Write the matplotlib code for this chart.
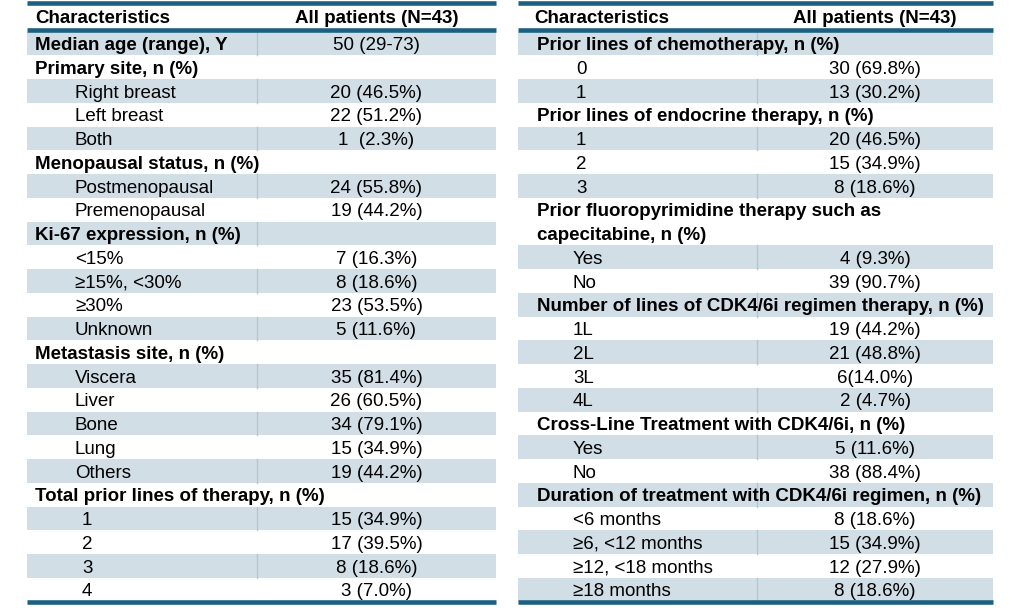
import matplotlib
matplotlib.use("Agg")
import matplotlib.pyplot as plt

plt.rcParams['font.family'] = ['Liberation Sans', 'DejaVu Sans']

header_left = "Characteristics"
header_right = "All patients (N=43)"

# kind: 'c' = category (bold), 's' = sub item, 'n' = numeric sub item, 'c2' = two-line category
left_labels = ["Median age (range), Y", "Primary site, n (%)", "Right breast", "Left breast", "Both",
               "Menopausal status, n (%)", "Postmenopausal", "Premenopausal",
               "Ki-67 expression, n (%)", "<15%", "≥15%, <30%", "≥30%", "Unknown",
               "Metastasis site, n (%)", "Viscera", "Liver", "Bone", "Lung", "Others",
               "Total prior lines of therapy, n (%)", "1", "2", "3", "4"]
left_values = ["50 (29-73)", "", "20 (46.5%)", "22 (51.2%)", "1  (2.3%)",
               "", "24 (55.8%)", "19 (44.2%)",
               "", "7 (16.3%)", "8 (18.6%)", "23 (53.5%)", "5 (11.6%)",
               "", "35 (81.4%)", "26 (60.5%)", "34 (79.1%)", "15 (34.9%)", "19 (44.2%)",
               "", "15 (34.9%)", "17 (39.5%)", "8 (18.6%)", "3 (7.0%)"]
left_kinds = ["c", "c", "s", "s", "s", "c", "s", "s", "c", "s", "s", "s", "s",
              "c", "s", "s", "s", "s", "s", "c", "n", "n", "n", "n"]

right_labels = ["Prior lines of chemotherapy, n (%)", "0", "1",
                "Prior lines of endocrine therapy, n (%)", "1", "2", "3",
                "Prior fluoropyrimidine therapy such as\ncapecitabine, n (%)", "Yes", "No",
                "Number of lines of CDK4/6i regimen therapy, n (%)", "1L", "2L", "3L", "4L",
                "Cross-Line Treatment with CDK4/6i, n (%)", "Yes", "No",
                "Duration of treatment with CDK4/6i regimen, n (%)",
                "<6 months", "≥6, <12 months", "≥12, <18 months", "≥18 months"]
right_values = ["", "30 (69.8%)", "13 (30.2%)",
                "", "20 (46.5%)", "15 (34.9%)", "8 (18.6%)",
                "", "4 (9.3%)", "39 (90.7%)",
                "", "19 (44.2%)", "21 (48.8%)", "6(14.0%)", "2 (4.7%)",
                "", "5 (11.6%)", "38 (88.4%)",
                "", "8 (18.6%)", "15 (34.9%)", "12 (27.9%)", "8 (18.6%)"]
right_kinds = ["c", "n", "n", "c", "n", "n", "n", "c2", "s", "s",
               "c", "s", "s", "s", "s", "c", "s", "s", "c", "s", "s", "s", "s"]

W, H = 1016, 615
fig = plt.figure(figsize=(W / 100, H / 100), dpi=100)
ax = fig.add_axes([0, 0, 1, 1])
ax.set_xlim(0, W)
ax.set_ylim(H, 0)
ax.axis('off')

DARK = "#1b6080"
SHADE = "#d1dee6"
DIV = "#b3c7d3"
FS = 13.5
DY = 2.2  # text vertical offset

top, head_bot, bot = 2.5, 30, 601.5
unit = (bot - head_bot - 1.5) / 24.0


def draw_table(x0, x1, xdiv, xcat, xsub, xnum, labels, values, kinds, xhead):
    xval = (xdiv + x1) / 2
    ax.text(xhead, (top + head_bot) / 2 + DY, header_left, fontsize=FS, fontweight='bold',
            va='center', ha='left', color='black')
    ax.text(xval, (top + head_bot) / 2 + DY, header_right, fontsize=FS, fontweight='bold',
            va='center', ha='center', color='black')
    y = head_bot + 1.5
    for i, (lab, val, k) in enumerate(zip(labels, values, kinds)):
        n_units = 2 if k == "c2" else 1
        h = unit * n_units
        if i % 2 == 0:
            ax.add_patch(plt.Rectangle((x0, y), x1 - x0, h, facecolor=SHADE, edgecolor='none', zorder=1))
            ax.plot([xdiv, xdiv], [y, y + h], color=DIV, lw=1.0, zorder=2)
        if k in ("c", "c2"):
            for j, line in enumerate(lab.split("\n")):
                yc = y + unit * (j + 0.5) + DY
                ax.text(xcat, yc, line, fontsize=FS, fontweight='bold', va='center', ha='left', zorder=3)
        else:
            yc = y + h / 2 + DY
            xl = xsub if k == "s" else xnum
            ax.text(xl, yc, lab, fontsize=FS, va='center', ha='left', zorder=3)
        if val:
            ax.text(xval, y + h / 2 + DY, val, fontsize=FS, va='center', ha='center', zorder=3)
        y += h
    for yy in (top, head_bot, bot + 0.5):
        ax.plot([x0, x1], [yy, yy], color=DARK, lw=3.3, solid_capstyle='butt', zorder=4)


draw_table(27, 496, 257, 35, 75, 82, left_labels, left_values, left_kinds, 35)
draw_table(518, 993, 757, 537, 573, 576, right_labels, right_values, right_kinds, 534)

fig.savefig("out.png", dpi=100)
